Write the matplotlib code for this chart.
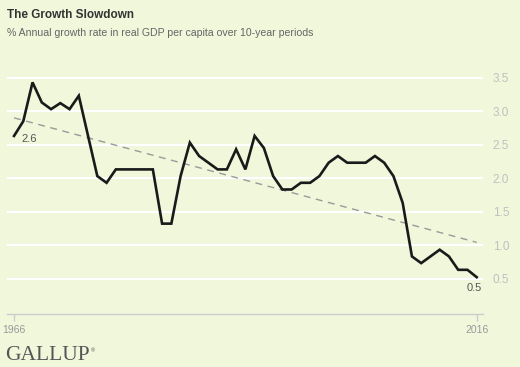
import numpy as np
import matplotlib.pyplot as plt

# annual growth rate of real GDP per capita, 10-year periods ending 1966..2016
years = list(range(1966, 2017))
growth = [2.63, 2.85, 3.43, 3.13, 3.03, 3.12, 3.03, 3.23, 2.63, 2.03,
          1.93, 2.13, 2.13, 2.13, 2.13, 2.13, 1.32, 1.32, 2.03, 2.53,
          2.33, 2.23, 2.13, 2.13, 2.43, 2.13, 2.63, 2.45, 2.03, 1.83,
          1.83, 1.93, 1.93, 2.03, 2.23, 2.33, 2.23, 2.23, 2.23, 2.33,
          2.23, 2.03, 1.63, 0.83, 0.73, 0.83, 0.93, 0.83, 0.63, 0.63,
          0.52]
trend_years = [1966, 2016]
trend_vals = [2.90, 1.04]
y_ticks = [0.5, 1.0, 1.5, 2.0, 2.5, 3.0, 3.5]
x_ticks = [1966, 2016]

bg = '#F0F7DB'
plt.rcParams['font.family'] = ['Liberation Sans', 'DejaVu Sans']

fig = plt.figure(figsize=(5.2, 3.67), dpi=100, facecolor=bg)
ax = fig.add_axes([7 / 520, 1 - 314 / 367, 476 / 520, 243 / 367])
ax.set_facecolor(bg)

for v in y_ticks:
    ax.axhline(v, color='white', lw=1.6, zorder=1)

ax.plot(trend_years, trend_vals, color='#9a9a9a', lw=1.0, ls=(0, (5, 4)), zorder=2)
ax.plot(years, growth, color='#1a1a1a', lw=1.9, zorder=3, solid_joinstyle='miter')

ax.annotate('2.6', (years[0], growth[0]), xytext=(5.5, -2.5), textcoords='offset points',
            fontsize=8, color='#555555', va='center', ha='left')
ax.annotate('0.5', (years[-1], growth[-1]), xytext=(-2, -7.5), textcoords='offset points',
            fontsize=8, color='#555555', va='center', ha='center')

ax.set_xlim(1965.24, 2016.68)
ax.set_ylim(-0.03, 3.6)

for s in ['top', 'left', 'right']:
    ax.spines[s].set_visible(False)
ax.spines['bottom'].set_color('#cccccc')
ax.spines['bottom'].set_linewidth(1.0)

ax.yaxis.tick_right()
ax.set_yticks(y_ticks)
ax.set_yticklabels([f'{v:.1f}' for v in y_ticks])
ax.tick_params(axis='y', length=0, pad=7, labelsize=8.5, labelcolor='#c0c0c0')
ax.set_xticks(x_ticks)
ax.set_xticklabels([str(x) for x in x_ticks])
ax.tick_params(axis='x', length=5, width=1, color='#cccccc', pad=3,
               labelsize=7.5, labelcolor='#999999')

fig.text(7 / 520, 1 - 14.5 / 367, 'The Growth Slowdown', fontsize=8.5,
         fontweight='bold', color='#333333', va='center', ha='left')
fig.text(7 / 520, 1 - 32.5 / 367,
         '% Annual growth rate in real GDP per capita over 10-year periods',
         fontsize=7.6, color='#666666', va='center', ha='left')
fig.text(5 / 520, 1 - 355.5 / 367, 'GALLUP', fontsize=15.5, color='#555555',
         family=['Liberation Serif', 'DejaVu Serif'], va='center', ha='left')
fig.text(90.5 / 520, 1 - 351 / 367, '\u00ae', fontsize=4, color='#555555',
         va='center', ha='left')

fig.savefig('out.png', dpi=100, facecolor=bg)
